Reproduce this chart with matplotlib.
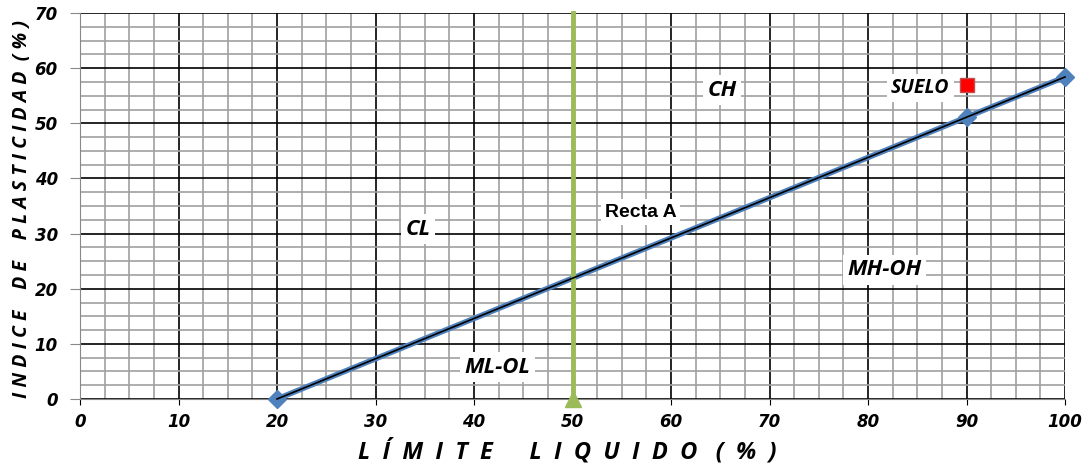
import matplotlib
matplotlib.use("Agg")
import matplotlib.pyplot as plt
import numpy as np

# Data
linea_a_ll = [20, 90, 100]
linea_a_ip = [0, 51.1, 58.4]
linea_b_ll = [50, 50]
linea_b_ip = [0, 70]
suelo_ll = [90]
suelo_ip = [57]
zonas = ["CH", "CL", "MH-OH", "ML-OL"]
zonas_pos = [(65.2, 56), (34.3, 30.8), (81.7, 23.4), (42.4, 5.8)]
x_ticks = list(range(0, 101, 10))
y_ticks = list(range(0, 71, 10))

W, H = 1085, 468
fig = plt.figure(figsize=(W / 100, H / 100), dpi=100)
ax = fig.add_axes([80 / W, 1 - 399 / H, (1065 - 80) / W, (399 - 13) / H])

ax.set_xlim(0, 100)
ax.set_ylim(0, 70)
ax.set_xticks(x_ticks)
ax.set_yticks(y_ticks)
ax.set_xticks(np.arange(0, 100.1, 2.5), minor=True)
ax.set_yticks(np.arange(0, 70.1, 2.5), minor=True)
ax.grid(which="minor", color="#a0a0a0", linewidth=1.2, zorder=0)
ax.grid(which="major", color="black", linewidth=1.2, zorder=0)
for s in ["top", "right"]:
    ax.spines[s].set_visible(False)
ax.spines["left"].set_color("#888888")
ax.spines["bottom"].set_color("#888888")
ax.tick_params(which="minor", length=0)
ax.tick_params(axis="y", which="major", length=7, color="#888888", pad=9)
ax.tick_params(axis="x", which="major", length=4, color="black", pad=6)
for lab in ax.get_xticklabels() + ax.get_yticklabels():
    lab.set_fontweight("bold")
    lab.set_fontstyle("italic")
    lab.set_fontsize(12)
    lab.set_family("DejaVu Sans")

# A-line
ax.plot(linea_a_ll, linea_a_ip, color="#4f81bd", linewidth=4, marker="D",
        markersize=9, zorder=3, clip_on=False)
ax.plot(linea_a_ll, linea_a_ip, color="black", linewidth=1.2, zorder=4, clip_on=False)
# B-line
ax.plot(linea_b_ll, linea_b_ip, color="#9bbb59", linewidth=3.5, zorder=3, clip_on=False)
ax.plot(linea_b_ll[:1], linea_b_ip[:1], color="#9bbb59", marker="^", markersize=12,
        zorder=3, clip_on=False, linestyle="none")
# Suelo
ax.plot(suelo_ll, suelo_ip, color="#ff0000", marker="s", markersize=10,
        markeredgecolor="#c0504d", linestyle="none", zorder=5)

box = dict(facecolor="white", edgecolor="none", pad=3)
for name, (x, y) in zip(zonas, zonas_pos):
    ax.text(x, y, name, fontsize=16, fontweight="bold", fontstyle="italic",
            family="Open Sans", ha="center", va="center", bbox=box, zorder=6)
ax.text(85.3, 56.4, "SUELO", fontsize=14, fontweight="bold", fontstyle="italic",
        family="Open Sans", ha="center", va="center", bbox=box, zorder=6)
ax.text(56.9, 33.9, "Recta A", fontsize=14, fontweight="bold",
        family="Liberation Sans", ha="center", va="center", bbox=box, zorder=6)

fig.text(567 / W, 1 - 452 / H,
         "L  Í  M  I  T  E      L  I  Q  U  I  D  O   (  %  )",
         fontsize=17, fontweight="bold", fontstyle="italic", family="Open Sans",
         ha="center", va="center")
fig.text(22 / W, 1 - 209 / H,
         "I N D I C E    D E    P L A S T I C I D A D  ( % )",
         fontsize=14, fontweight="bold", fontstyle="italic", family="Open Sans",
         ha="center", va="center", rotation=90)

fig.savefig("out.png", dpi=100)
